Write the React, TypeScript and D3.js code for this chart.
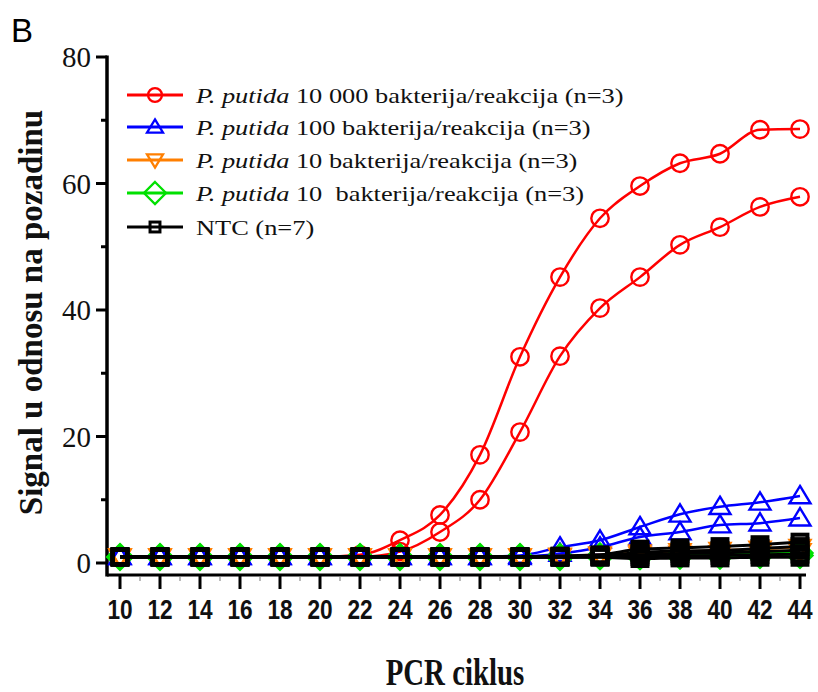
import React from 'react';
import * as d3 from 'd3';

const cycles = [10, 12, 14, 16, 18, 20, 22, 24, 26, 28, 30, 32, 34, 36, 38, 40, 42, 44];
const minorCycles = [11, 13, 15, 17, 19, 21, 23, 25, 27, 29, 31, 33, 35, 37, 39, 41, 43];
const yTicks = [0, 20, 40, 60, 80];
const yMinorTicks = [10, 30, 50, 70];

// P. putida 10 000 (red) replicates
const red1 = [1, 1, 1, 1, 1, 1, 1.3, 3.6, 7.6, 17.1, 32.6, 45.2, 54.5, 59.6, 63.2, 64.7, 68.5, 68.6];
const red2 = [1, 1, 1, 1, 1, 1, 1, 1.8, 4.9, 10.0, 20.7, 32.7, 40.3, 45.2, 50.3, 53.1, 56.3, 57.9];
// P. putida 100 (blue)
const blue1 = [1, 1, 1, 1, 1, 1, 1, 1, 1, 1, 1.2, 2.5, 3.6, 5.7, 7.7, 8.9, 9.6, 10.6];
const blue2 = [1, 1, 1, 1, 1, 1, 1, 1, 1, 1, 1.0, 1.5, 2.5, 4.1, 4.9, 6.0, 6.3, 7.1];
// P. putida 10 (orange)
const orange1 = [1, 1, 1, 1, 1, 1, 1, 1, 1, 1, 1, 1.1, 1.3, 1.6, 1.8, 2.0, 2.2, 2.5];
const orange2 = [1, 1, 1, 1, 1, 1, 1, 1, 1, 1, 1, 1, 1.1, 1.3, 1.4, 1.5, 1.6, 1.8];
// P. putida 10 (green)
const green1 = [1, 1, 1, 1, 1, 1, 1, 1, 1, 1, 1, 1, 1.1, 1.2, 1.3, 1.4, 1.5, 1.6];
const green2 = [0.9, 0.9, 0.9, 0.9, 0.9, 0.9, 0.9, 0.9, 0.9, 0.9, 0.9, 0.9, 1.0, 1.0, 1.1, 1.1, 1.2, 1.2];
// NTC (black)
const ntc1 = [1, 1, 1, 1, 1, 1, 1, 1, 1, 1, 1, 1.1, 1.3, 2.2, 2.4, 2.6, 2.9, 3.3];
const ntc2 = [1, 1, 1, 1, 1, 1, 1, 1, 1, 1, 1, 1, 1.1, 1.7, 1.9, 2.0, 2.3, 2.6];
const ntc3 = [1, 1, 1, 1, 1, 1, 1, 1, 1, 1, 1, 1, 1, 1.3, 1.5, 1.6, 1.8, 2.0];
const ntc4 = [0.9, 0.9, 0.9, 0.9, 0.9, 0.9, 0.9, 0.9, 0.9, 0.9, 0.9, 0.9, 1, 1.0, 1.1, 1.2, 1.3, 1.4];
const ntc5 = [0.9, 0.9, 0.9, 0.9, 0.9, 0.9, 0.9, 0.9, 0.9, 0.9, 0.9, 0.9, 0.9, 0.7, 0.8, 0.8, 0.9, 0.9];

const seriesColors = ['#ff0000', '#0000ff', '#ff7f00', '#00e000', '#000000'];
const seriesShapes = ['circle', 'triangle', 'triangleDown', 'diamond', 'square'];
const seriesData = [[red1, red2], [blue1, blue2], [orange1, orange2], [green1, green2], [ntc1, ntc2, ntc3, ntc4, ntc5]];
const legendCounts = ['10 000', '100', '10', '10 ', ''];
const legendRest = ['bakterija/reakcija (n=3)', 'bakterija/reakcija (n=3)', 'bakterija/reakcija (n=3)', 'bakterija/reakcija (n=3)', ''];
const legendItalic = 'P. putida';
const ntcLabel = 'NTC (n=7)';

function Marker({ shape, color, cx, cy, s, sw }: { shape: string; color: string; cx: number; cy: number; s: number; sw: number }) {
  const common = { fill: 'none', stroke: color, strokeWidth: sw } as any;
  if (shape === 'circle') return <circle cx={cx} cy={cy} r={s * 0.87} {...common} />;
  if (shape === 'square') {
    const h = s * 0.62;
    return <rect x={cx - h} y={cy - h} width={2 * h} height={2 * h} {...common} />;
  }
  if (shape === 'triangle') {
    const w = s;
    const p = `M${cx},${cy - w * 0.95} L${cx + w},${cy + w * 0.7} L${cx - w},${cy + w * 0.7} Z`;
    return <path d={p} {...common} />;
  }
  if (shape === 'triangleDown') {
    const w = s;
    const p = `M${cx},${cy + w * 0.95} L${cx + w},${cy - w * 0.7} L${cx - w},${cy - w * 0.7} Z`;
    return <path d={p} {...common} />;
  }
  const d = s;
  const p = `M${cx},${cy - d} L${cx + d},${cy} L${cx},${cy + d} L${cx - d},${cy} Z`;
  return <path d={p} {...common} />;
}

export default function App() {
  const x = d3.scaleLinear().domain([10, 44]).range([120, 800]);
  const y = d3.scaleLinear().domain([0, 80]).range([563, 57]);
  const line = d3
    .line<number>()
    .x((_, i) => x(cycles[i]))
    .y((d) => y(d))
    .curve(d3.curveMonotoneX);

  const axisX = 107;
  const axisY = 575;
  const legendY = [95, 127, 160, 193, 227];
  const plotSize = [10, 10.5, 10.5, 12.5, 12];

  return (
    <svg width={818} height={692} style={{ position: 'absolute', left: 0, top: 0, background: 'white' }}>
      <rect width={818} height={692} fill="white" />
      <text x={11} y={42} fontFamily="Liberation Sans, Arial, sans-serif" fontSize={33}>B</text>

      {/* Y axis */}
      <line x1={axisX} x2={axisX} y1={y(80) - 1.5} y2={axisY + 1.5} stroke="black" strokeWidth={3.5} />
      {yTicks.map((t) => (
        <g key={'yt' + t}>
          <line x1={axisX - 11} x2={axisX} y1={y(t)} y2={y(t)} stroke="black" strokeWidth={3} />
          <text x={91} y={y(t)} dy="0.35em" textAnchor="end" fontFamily="Liberation Serif, Times New Roman, serif" fontSize={29} fill="#111">
            {t}
          </text>
        </g>
      ))}
      {yMinorTicks.map((t) => (
        <line key={'ym' + t} x1={axisX - 6} x2={axisX} y1={y(t)} y2={y(t)} stroke="black" strokeWidth={3} />
      ))}
      <text
        transform={`translate(42,${(108 + 517) / 2}) rotate(-90)`}
        textAnchor="middle"
        fontFamily="Liberation Serif, Times New Roman, serif"
        fontWeight="bold"
        fontSize={33}
        fill="#111"
      >
        Signal u odnosu na pozadinu
      </text>

      {/* X axis */}
      <line x1={axisX} x2={806} y1={axisY} y2={axisY} stroke="black" strokeWidth={3} />
      {cycles.map((c) => (
        <g key={'xt' + c}>
          <line x1={x(c)} x2={x(c)} y1={axisY} y2={axisY + 14} stroke="black" strokeWidth={3} />
          <text
            transform={`translate(${x(c)},619) scale(0.84,1)`}
            textAnchor="middle"
            fontFamily="Liberation Sans, Arial, sans-serif"
            fontWeight="bold"
            fontSize={27}
            fill="#111"
          >
            {c}
          </text>
        </g>
      ))}
      {minorCycles.map((c) => (
        <line key={'xm' + c} x1={x(c)} x2={x(c)} y1={axisY + 2} y2={axisY + 6} stroke="#bbb" strokeWidth={2} />
      ))}
      <text
        transform={`translate(455,685) scale(0.78,1)`}
        textAnchor="middle"
        fontFamily="Liberation Serif, Times New Roman, serif"
        fontWeight="bold"
        fontSize={37}
        fill="#111"
      >
        PCR ciklus
      </text>

      {/* Series */}
      {seriesData.map((reps, si) => (
        <g key={'s' + si}>
          {reps.map((vals, ri) => (
            <g key={'r' + ri}>
              <path d={line(vals) || ''} fill="none" stroke={seriesColors[si]} strokeWidth={si === 4 ? 3 : 2.5} />
              {vals.map((v, i) => (
                <Marker
                  key={i}
                  shape={seriesShapes[si]}
                  color={seriesColors[si]}
                  cx={x(cycles[i])}
                  cy={y(v)}
                  s={plotSize[si]}
                  sw={si === 4 ? 4 : 2.4}
                />
              ))}
            </g>
          ))}
        </g>
      ))}

      {/* Legend */}
      {seriesColors.map((col, i) => (
        <g key={'lg' + i}>
          <line x1={127} x2={183} y1={legendY[i]} y2={legendY[i]} stroke={col} strokeWidth={3} />
          <Marker shape={seriesShapes[i]} color={col} cx={155} cy={legendY[i]} s={i === 3 ? 11 : 8} sw={i === 4 ? 3 : 2.3} />
          <text
            transform={`translate(196,${legendY[i]}) scale(1.2,1)`}
            dy="0.35em"
            fontFamily="Liberation Serif, Times New Roman, serif"
            fontSize={22}
            fill="#111"
            style={{ whiteSpace: 'pre' }}
          >
            {i < 4 ? (
              <>
                <tspan fontStyle="italic">{legendItalic}</tspan>
                <tspan>{' ' + legendCounts[i] + ' ' + legendRest[i]}</tspan>
              </>
            ) : (
              ntcLabel
            )}
          </text>
        </g>
      ))}
    </svg>
  );
}
